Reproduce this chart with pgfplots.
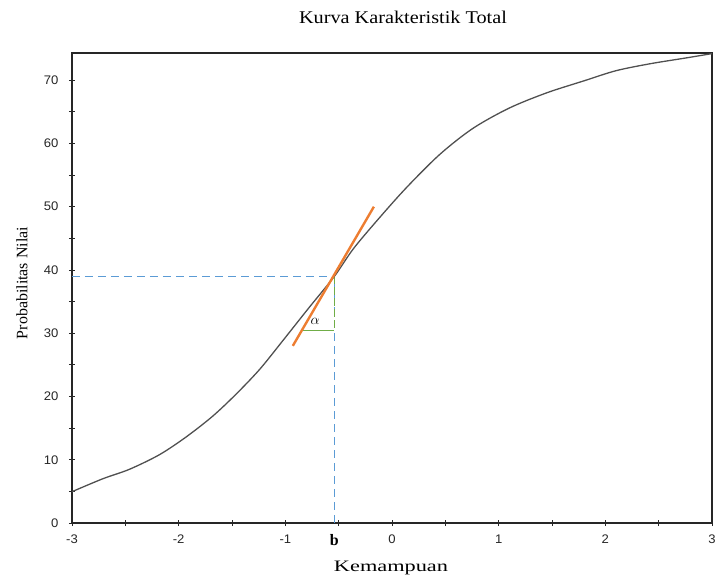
\documentclass[border=0pt]{standalone}
\usepackage{fontspec}
\setmainfont{Liberation Serif}
\newfontfamily\tickfont[FakeStretch=1.05]{Liberation Sans}
\newfontfamily\titlefont[FakeStretch=1.13]{Liberation Serif}
\newfontfamily\xlabfont[FakeStretch=1.4]{Liberation Serif}
\usepackage{pgfplots}
\pgfplotsset{compat=1.18}
\definecolor{curve}{RGB}{80,80,80}
\definecolor{orng}{RGB}{237,125,49}
\definecolor{blu}{RGB}{91,155,213}
\definecolor{grn}{RGB}{112,173,71}
\begin{document}
\begin{tikzpicture}
\begin{axis}[
  at={(0,0)}, anchor=south west, scale only axis,
  width=640bp, height=470bp,
  xmin=-3, xmax=3, ymin=0, ymax=74.3,
  axis line style={black!85, line width=1.1pt},
  tick pos=left, tick align=center,
  major tick length=6bp, minor tick length=6bp,
  every tick/.style={black!85, line width=0.9pt},
  xtick={-3,-2,-1,0,1,2,3}, xticklabels={-3,-2,-1,0,1,2,3},
  minor xtick={-2.5,-1.5,-0.5,0.5,1.5,2.5},
  ytick={0,10,20,30,40,50,60,70}, yticklabels={0,10,20,30,40,50,60,70},
  minor ytick={5,15,25,35,45,55,65},
  ticklabel style={font=\tickfont\fontsize{12.5}{13}\selectfont, text=black!85},
  xticklabel style={yshift=-5bp},
  yticklabel style={xshift=-7bp},
  extra x ticks={-0.54}, extra x tick labels={\textbf{b}},
  extra x tick style={major tick length=0pt,
    xticklabel style={font=\fontsize{16}{16}\selectfont\bfseries, text=black, yshift=-3bp}},
  clip=false,
]
\addplot[blu, line width=1.1pt, dash pattern=on 8bp off 5bp] coordinates {(-3,39) (-0.54,39)};
\addplot[blu, line width=1.1pt, dash pattern=on 8bp off 5bp] coordinates {(-0.54,0) (-0.54,39)};
\addplot[grn, line width=1.1pt, dash pattern=on 8bp off 3bp] coordinates {(-0.54,39) (-0.54,30.5)};
\addplot[grn, line width=1.1pt] coordinates {(-0.83,30.5) (-0.54,30.5)};
\addplot[curve, line width=1.3pt, smooth] coordinates {
 (-3,4.95) (-2.71,7.0) (-2.46,8.5) (-2.18,10.8) (-1.93,13.6) (-1.68,16.9)
 (-1.46,20.4) (-1.24,24.3) (-1.02,28.9) (-0.78,34.0) (-0.54,39.0) (-0.36,43.4)
 (-0.11,48.4) (0.14,53.1) (0.45,58.3) (0.76,62.4) (1.1,65.6) (1.45,68.0)
 (1.8,69.9) (2.1,71.5) (2.42,72.6) (2.75,73.5) (3,74.2)};
\addplot[orng, line width=2.4pt] coordinates {(-0.93,28) (-0.17,50)};
\node[font=\fontsize{14}{14}\selectfont] at (axis cs:-0.72,31.8) {$\alpha$};
\end{axis}
\node[font=\titlefont\fontsize{18}{20}\selectfont] at (331bp,506bp) {Kurva Karakteristik Total};
\node[font=\xlabfont\fontsize{16}{18}\selectfont] at (319bp,-45bp) {Kemampuan};
\node[rotate=90, font=\fontsize{16}{18}\selectfont] at (-50bp,240bp) {Probabilitas Nilai};
\pgfresetboundingbox
\path (-72bp,-55bp) rectangle (643bp,523bp);
\end{tikzpicture}
\end{document}
